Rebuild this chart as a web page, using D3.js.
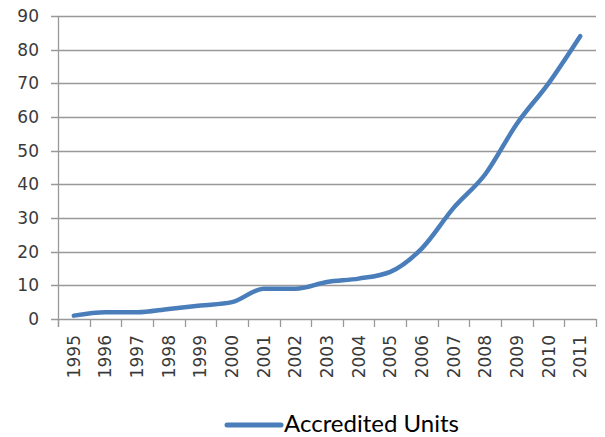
<!DOCTYPE html>
<html>
<head>
<meta charset="utf-8">
<script src="https://cdn.jsdelivr.net/npm/d3@7"></script>
<style>
  body { margin: 0; background: #fff; }
  svg text { font-family: "DejaVu Sans", Verdana, sans-serif; }
</style>
</head>
<body>
<div id="svg"></div>
<script>
var h = 437;
var w = 605;

var border = { top: 16, bottom: 118, left: 58, right: 9 }

// data
var years = ['1995','1996','1997','1998','1999','2000','2001','2002','2003',
             '2004','2005','2006','2007','2008','2009','2010','2011'];
var units = [1, 2, 2, 3, 4, 5, 9, 9, 11, 12, 14, 21, 33, 43, 58, 70, 84];
var yTicks = [0, 10, 20, 30, 40, 50, 60, 70, 80, 90];
var seriesName = 'Accredited Units';

var data = years.map((y, i) => ({ year: y, value: units[i] }));

const svg = d3.select('#svg')
              .append('svg')
              .attr('height', h)
              .attr('width', w)

var x = d3.scaleBand()
          .domain(years)
          .range([border.left, w - border.right])

var y = d3.scaleLinear()
          .domain([0, 90])
          .range([h - border.bottom, border.top])

// gridlines
svg.append('g')
    .selectAll('line')
    .data(yTicks)
    .enter()
      .append('line')
      .attr('x1', border.left - 7)
      .attr('x2', w - border.right)
      .attr('y1', d => Math.round(y(d)) + 0.5)
      .attr('y2', d => Math.round(y(d)) + 0.5)
      .attr('stroke', '#999')
      .attr('stroke-width', 1.3)

// y axis line
svg.append('line')
    .attr('x1', border.left + 0.5)
    .attr('x2', border.left + 0.5)
    .attr('y1', y(90))
    .attr('y2', y(0) + 8)
    .attr('stroke', '#999')
    .attr('stroke-width', 1.3)

svg.append('g')
    .selectAll('text')
    .data(yTicks)
    .enter()
      .append('text')
      .attr('x', border.left - 19)
      .attr('y', d => y(d))
      .attr('dy', '0.36em')
      .attr('text-anchor', 'end')
      .attr('font-size', 17)
      .attr('fill', '#3a3a3a')
      .text(d => d)

// x axis ticks (band edges)
var edges = years.map(d => x(d)).concat([w - border.right]);
svg.append('g')
    .selectAll('line')
    .data(edges)
    .enter()
      .append('line')
      .attr('x1', d => Math.round(d) + 0.5)
      .attr('x2', d => Math.round(d) + 0.5)
      .attr('y1', y(0))
      .attr('y2', y(0) + 8)
      .attr('stroke', '#999')
      .attr('stroke-width', 1.3)

svg.append('g')
    .selectAll('text')
    .data(years)
    .enter()
      .append('text')
      .attr('transform', d => `translate(${x(d) + x.bandwidth() / 2 + 6}, ${y(0) + 16}) rotate(-90)`)
      .attr('text-anchor', 'end')
      .attr('font-size', 17)
      .attr('fill', '#3a3a3a')
      .text(d => d)

// the line
var line = d3.line()
             .x(d => x(d.year) + x.bandwidth() / 2)
             .y(d => y(d.value))
             .curve(d3.curveMonotoneX)

svg.append('path')
    .datum(data)
    .attr('d', line)
    .attr('fill', 'none')
    .attr('stroke', '#4a7ebb')
    .attr('stroke-width', 4.5)
    .attr('stroke-linecap', 'round')
    .attr('stroke-linejoin', 'round')

// legend
svg.append('line')
    .attr('x1', 227)
    .attr('x2', 281)
    .attr('y1', 425)
    .attr('y2', 425)
    .attr('stroke', '#4a7ebb')
    .attr('stroke-width', 5)
    .attr('stroke-linecap', 'round')

svg.append('text')
    .attr('x', 284)
    .attr('y', 432)
    .style('font-family', 'Lato, "Open Sans", sans-serif')
    .attr('font-size', 24)
    .attr('fill', '#000')
    .text(seriesName)
</script>
</body>
</html>
